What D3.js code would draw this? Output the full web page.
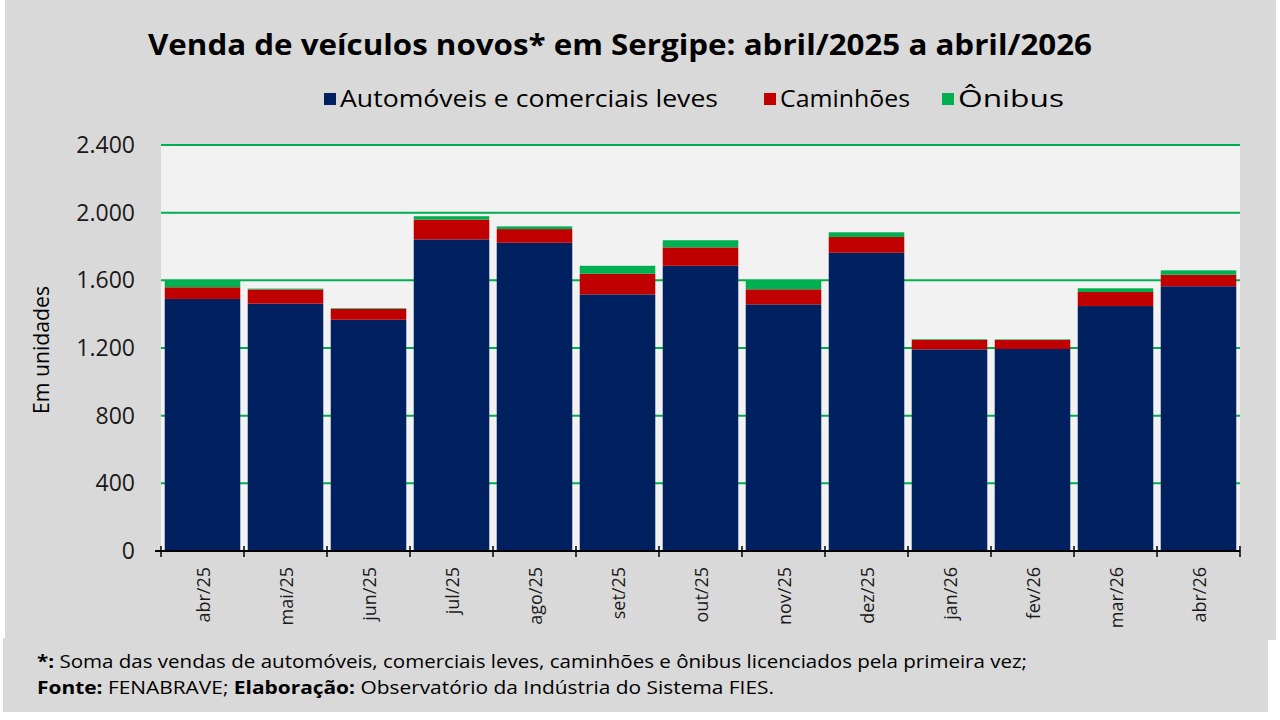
<!DOCTYPE html>
<html>
<head>
<meta charset="utf-8">
<script src="https://cdn.jsdelivr.net/npm/d3@7"></script>
<style>
  body { margin: 0; background: #ffffff; }
  svg { display: block; font-family: 'Open Sans', 'Noto Sans', sans-serif; }
</style>
</head>
<body>
<svg id="chart" width="1280" height="720"></svg>
<script>
// months shown on the x axis
const months = ['abr/25', 'mai/25', 'jun/25', 'jul/25', 'ago/25', 'set/25', 'out/25',
  'nov/25', 'dez/25', 'jan/26', 'fev/26', 'mar/26', 'abr/26']

// units sold
const automoveis = [1490, 1462, 1367, 1842, 1822, 1517, 1686, 1458, 1763, 1192, 1194, 1448, 1565]
const caminhoes = [69, 84, 64, 117, 81, 122, 109, 89, 93, 56, 54, 83, 68]
const onibus = [43, 5, 4, 20, 16, 47, 42, 53, 28, 4, 3, 22, 26]

const seriesNames = ['Automóveis e comerciais leves', 'Caminhões', 'Ônibus']
const seriesColors = ['#002060', '#c00000', '#00b050']
const yTicks = [0, 400, 800, 1200, 1600, 2000, 2400]

const svg = d3.select('#chart')
const margin = {top: 145, right: 40, bottom: 169, left: 161}
const width = 1280 - margin.left - margin.right
const height = 720 - margin.top - margin.bottom

// page frame: chart panel and the footer panel under it
svg.append('rect').attr('x', 5).attr('y', 0).attr('width', 1271).attr('height', 640).attr('fill', '#d9d9d9')
svg.append('rect').attr('x', 3).attr('y', 638).attr('width', 1265).attr('height', 74).attr('fill', '#d9d9d9')

// title
svg.append('text')
  .attr('x', 620).attr('y', 55)
  .attr('text-anchor', 'middle')
  .attr('font-size', 28).attr('font-weight', 'bold')
  .attr('textLength', 944).attr('lengthAdjust', 'spacingAndGlyphs')
  .text('Venda de veículos novos* em Sergipe: abril/2025 a abril/2026')

// legend
const legendPos = [{x: 324, w: 378}, {x: 764, w: 130}, {x: 942, w: 106}]
const legend = svg.append('g').selectAll('g')
  .data(seriesNames)
  .enter().append('g')
  .attr('transform', (d, i) => 'translate(' + legendPos[i].x + ',99)')
legend.append('rect')
  .attr('x', 0).attr('y', -6).attr('width', 12).attr('height', 12)
  .attr('fill', (d, i) => seriesColors[i])
legend.append('text')
  .attr('x', 16).attr('y', 8)
  .attr('font-size', 23.5)
  .attr('textLength', (d, i) => legendPos[i].w)
  .attr('lengthAdjust', 'spacingAndGlyphs')
  .text(d => d)

const g = svg.append('g')
  .attr('transform', 'translate(' + margin.left + ',' + margin.top + ')')

// stack the three series
const rows = months.map((m, i) => ({month: m, a: automoveis[i], c: caminhoes[i], o: onibus[i]}))
const stacked = d3.stack().keys(['a', 'c', 'o'])(rows)

const xScale = d3.scaleBand()
  .domain(months)
  .range([0, width])
  .paddingInner(0.09)
  .paddingOuter(0.045)

const yScale = d3.scaleLinear()
  .domain([0, 2400])
  .range([height, 0])

const locale = d3.formatLocale({decimal: ',', thousands: '.', grouping: [3], currency: ['R$', '']})
const fmt = locale.format(',d')

// plot background
g.append('rect')
  .attr('width', width).attr('height', height)
  .attr('fill', '#f2f2f2')

// gridlines
g.append('g').selectAll('line')
  .data(yTicks.slice(1))
  .enter().append('line')
  .attr('x1', 0).attr('x2', width)
  .attr('y1', d => yScale(d)).attr('y2', d => yScale(d))
  .attr('stroke', '#00b050').attr('stroke-width', 2)

// y tick labels
g.append('g').selectAll('text')
  .data(yTicks)
  .enter().append('text')
  .attr('x', -26).attr('y', d => yScale(d) + 8)
  .attr('text-anchor', 'end')
  .attr('font-size', 23)
  .attr('fill', '#1a1a1a')
  .text(d => fmt(d))

// y axis title
svg.append('text')
  .attr('transform', 'translate(49,350) rotate(-90)')
  .attr('text-anchor', 'middle')
  .attr('font-size', 21)
  .attr('textLength', 128).attr('lengthAdjust', 'spacingAndGlyphs')
  .text('Em unidades')

// bars
g.append('g').selectAll('g')
  .data(stacked)
  .enter().append('g')
  .attr('fill', (d, i) => seriesColors[i])
  .selectAll('rect')
  .data(d => d)
  .enter().append('rect')
  .attr('x', d => xScale(d.data.month))
  .attr('width', xScale.bandwidth())
  .attr('y', d => yScale(d[1]))
  .attr('height', d => yScale(d[0]) - yScale(d[1]))

// x axis line and ticks at category boundaries
const boundaries = d3.range(months.length + 1).map(i => i * width / months.length)
const xAxis = g.append('g').attr('transform', 'translate(0,' + height + ')')
xAxis.append('line')
  .attr('x1', -6).attr('x2', width)
  .attr('stroke', '#000').attr('stroke-width', 2)
xAxis.selectAll('line.tick')
  .data(boundaries)
  .enter().append('line')
  .classed('tick', true)
  .attr('x1', d => d).attr('x2', d => d)
  .attr('y1', -5).attr('y2', 6)
  .attr('stroke', '#000').attr('stroke-width', 1.5)

// rotated month labels
xAxis.selectAll('text')
  .data(months)
  .enter().append('text')
  .attr('transform', d => 'translate(' + (xScale(d) + xScale.bandwidth() / 2 + 7) + ',16) rotate(-90)')
  .attr('text-anchor', 'end')
  .attr('font-size', 18)
  .attr('fill', '#1a1a1a')
  .text(d => d)

// footer notes
const note1 = svg.append('text').attr('x', 37).attr('y', 668).attr('font-size', 18)
  .attr('textLength', 990).attr('lengthAdjust', 'spacingAndGlyphs')
note1.append('tspan').attr('font-weight', 'bold').text('*:')
note1.append('tspan').text(' Soma das vendas de automóveis, comerciais leves, caminhões e ônibus licenciados pela primeira vez;')

const note2 = svg.append('text').attr('x', 37).attr('y', 694).attr('font-size', 18)
  .attr('textLength', 737).attr('lengthAdjust', 'spacingAndGlyphs')
note2.append('tspan').attr('font-weight', 'bold').text('Fonte:')
note2.append('tspan').text(' FENABRAVE; ')
note2.append('tspan').attr('font-weight', 'bold').text('Elaboração:')
note2.append('tspan').text(' Observatório da Indústria do Sistema FIES.')
</script>
</body>
</html>
